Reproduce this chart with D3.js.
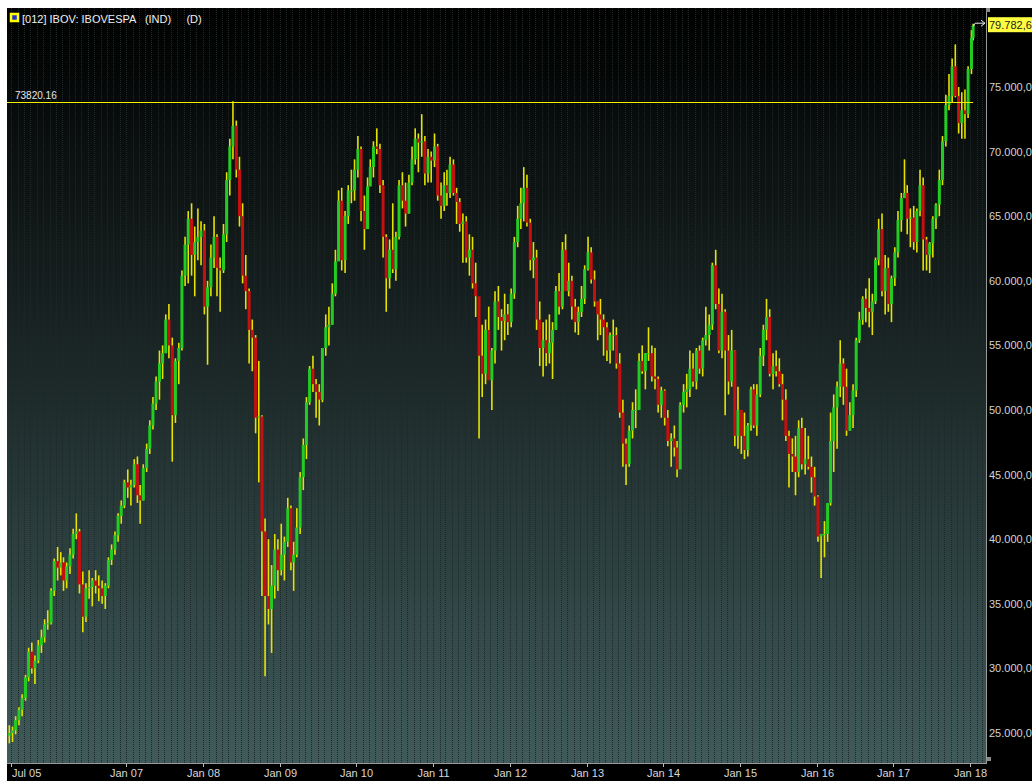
<!DOCTYPE html>
<html><head><meta charset="utf-8">
<script src="https://cdn.jsdelivr.net/npm/d3@7"></script>
<style>
body{margin:0;background:#000;overflow:hidden}
svg{display:block}
text{font-family:"Liberation Sans",Arial,sans-serif}
</style>
</head><body>
<svg id="c" width="1032" height="781"></svg>
<script>
// ---- DATA (half-month bars, values in thousands of points) ----
const firstOpen = 24.8;
const highs = [
/*2005*/ 25.6,25.5,26.3,27.0,28.0,29.5,31.6,32.0,31.0,32.2,33.0,33.8,34.5,
/*2006*/ 36.2,38.5,39.4,39.0,38.6,38.2,39.3,40.8,42.0,40.8,37.5,36.6,37.6,37.0,37.6,37.2,36.8,36.6,38.6,39.6,40.6,42.0,43.0,44.6,
/*2007*/ 45.4,44.6,46.2,46.4,44.2,45.8,47.4,49.2,51.0,52.6,54.6,55.0,57.4,58.2,55.6,54.0,55.2,60.8,63.4,65.4,66.0,64.2,65.6,64.6,
/*2008*/ 64.4,60.0,62.8,65.0,63.6,61.8,64.4,68.4,71.0,73.9,72.4,69.6,66.0,62.0,59.4,57.0,55.8,53.8,49.6,41.6,40.0,38.0,40.4,40.0,
/*2009*/ 41.2,40.2,43.2,42.6,39.8,42.4,45.2,47.8,51.0,53.4,54.2,52.4,52.0,54.8,57.4,58.0,59.8,62.4,67.0,67.2,65.4,67.4,68.6,69.4,
/*2010*/ 71.2,70.4,66.6,68.0,69.4,70.8,71.8,70.6,67.8,63.6,63.2,66.0,63.8,67.8,68.4,67.6,68.2,70.4,71.8,71.4,72.9,71.2,70.2,70.0,
/*2011*/ 71.4,70.6,67.6,68.4,68.6,69.6,69.4,67.2,66.4,65.2,65.0,63.6,63.4,61.4,58.4,56.6,57.0,58.0,54.8,59.2,59.6,57.8,59.0,58.2,
/*2012*/ 59.4,63.4,65.8,67.2,68.8,68.2,64.8,63.0,62.4,58.4,56.8,57.0,57.4,56.8,59.6,60.6,63.0,63.6,61.4,60.4,58.6,58.0,59.6,61.2,
/*2013*/ 63.4,62.6,60.8,58.4,58.6,57.4,56.8,56.0,57.0,56.4,54.4,50.8,47.8,48.8,50.6,51.6,54.4,55.0,54.4,56.4,55.0,54.8,52.6,51.8,
/*2014*/ 51.6,50.0,48.2,48.8,47.6,50.6,52.0,52.8,54.6,54.4,54.8,55.0,55.6,58.0,57.4,61.4,62.4,59.4,59.0,57.8,55.8,56.2,54.6,51.8,
/*2015*/ 50.0,49.8,49.0,51.8,52.0,52.0,54.8,56.6,58.6,57.8,54.4,54.6,54.0,52.8,51.6,48.4,47.8,48.0,49.2,49.4,48.6,48.0,46.4,45.6,
/*2016*/ 43.4,40.4,41.4,42.6,49.8,51.2,52.2,55.4,54.0,53.2,50.6,52.0,55.6,57.6,58.8,59.4,60.2,59.0,61.8,64.8,65.2,62.0,61.8,60.4,
/*2017*/ 62.6,65.4,66.8,69.4,67.4,65.6,65.8,65.6,68.6,68.0,63.4,63.0,65.0,66.0,68.6,71.2,74.4,76.0,77.2,78.3,75.0,74.6,74.8,76.6,
/*2018*/ 79.4,79.9];
const lows = [
/*2005*/ 24.2,24.3,24.9,25.6,26.3,27.5,29.0,29.6,28.8,30.4,31.2,32.0,33.0,
/*2006*/ 33.4,35.6,36.8,37.2,36.0,36.2,37.3,38.5,40.0,35.8,32.8,33.6,35.4,34.8,35.8,35.2,35.0,34.6,36.2,38.0,38.8,39.8,41.2,42.4,
/*2007*/ 43.2,42.6,44.0,42.8,41.2,43.0,45.2,46.6,48.5,50.0,50.8,52.4,54.4,54.0,46.0,49.0,52.0,54.6,59.6,59.8,60.4,58.8,61.6,61.2,
/*2008*/ 57.4,53.5,58.8,61.0,58.8,57.6,60.6,63.0,66.6,69.4,68.0,64.2,59.8,57.8,53.6,53.0,48.2,44.4,35.6,29.4,33.4,31.2,35.4,36.0,
/*2009*/ 37.2,36.8,39.4,37.6,36.0,38.6,40.4,43.8,46.2,50.4,51.4,49.4,48.8,50.6,54.2,55.0,56.6,58.8,61.6,60.8,60.6,64.4,66.0,66.2,
/*2010*/ 68.0,64.6,62.4,64.4,67.4,68.0,69.8,66.8,61.8,57.6,59.4,60.6,60.0,63.2,65.6,64.2,65.2,67.4,69.0,68.4,69.6,67.4,67.6,67.6,
/*2011*/ 68.8,66.2,64.8,65.4,65.8,66.4,66.6,64.4,63.8,61.4,61.4,60.4,59.4,57.2,47.8,51.0,52.0,52.4,50.0,53.6,56.2,54.6,55.4,55.8,
/*2012*/ 56.4,58.6,62.6,64.0,64.6,64.2,60.8,60.2,56.2,53.4,52.6,53.4,53.6,52.4,56.2,57.4,57.8,59.8,58.8,57.0,56.0,55.8,57.2,58.2,
/*2013*/ 60.8,59.8,58.0,55.4,55.8,54.2,53.8,53.6,54.6,53.2,49.4,45.6,44.2,45.6,47.8,48.6,50.0,52.8,51.6,53.8,52.2,51.6,49.8,49.4,
/*2014*/ 48.8,47.2,45.6,46.4,44.8,45.6,49.8,50.2,51.0,51.8,51.6,52.8,52.6,55.0,54.6,56.2,57.8,54.4,54.0,49.6,51.2,51.8,47.2,47.0,
/*2015*/ 46.6,46.2,46.4,48.4,48.6,48.0,51.0,53.4,55.4,52.6,51.6,52.6,51.8,49.2,47.6,44.0,45.2,43.4,44.8,45.4,45.0,45.4,43.6,42.6,
/*2016*/ 39.8,37.0,38.6,39.8,42.6,45.2,47.0,51.0,50.4,48.0,48.4,48.6,51.0,55.2,56.6,56.8,56.4,55.8,58.2,61.2,58.8,57.4,57.6,56.8,
/*2017*/ 59.6,61.8,63.8,66.4,63.6,62.6,62.4,62.2,65.0,60.8,60.8,60.6,61.8,64.0,65.0,67.4,70.4,73.2,73.8,74.2,71.4,71.0,71.0,72.6,
/*2018*/ 76.0,78.6];
const closes = [
/*2005*/ 25.0,25.2,26.0,26.8,27.7,29.3,31.3,30.0,30.6,31.8,32.4,33.4,33.5,
/*2006*/ 36.0,38.3,37.8,38.2,36.8,37.9,38.8,40.4,40.6,36.5,34.0,36.2,36.3,36.8,36.4,36.2,35.6,36.4,38.4,39.2,40.3,41.8,42.6,44.4,
/*2007*/ 44.0,44.2,45.8,43.4,43.0,45.5,47.0,48.8,50.5,52.2,53.6,54.4,57.0,55.0,49.6,53.8,54.8,60.4,62.8,64.8,62.0,63.0,63.4,63.9,
/*2008*/ 58.0,59.5,61.8,63.4,61.0,60.8,63.6,67.8,70.4,72.0,68.6,65.0,60.4,59.2,56.2,55.6,49.4,49.5,40.6,35.6,34.6,36.4,39.2,37.6,
/*2009*/ 38.8,39.8,42.4,38.2,38.8,40.9,44.8,47.3,50.6,53.2,52.0,51.4,50.8,54.8,56.4,56.6,59.0,61.5,66.2,61.6,65.0,67.0,67.0,68.6,
/*2010*/ 70.2,65.4,64.0,67.3,68.8,70.4,70.2,67.4,63.4,60.2,62.4,60.9,63.4,67.4,66.2,65.2,67.6,69.4,71.0,70.7,70.8,68.3,69.6,69.3,
/*2011*/ 70.4,66.6,65.8,67.4,66.8,69.0,66.8,66.1,64.4,64.6,61.8,62.4,59.8,58.8,54.2,52.8,56.2,52.3,54.6,58.4,57.2,56.9,57.4,56.8,
/*2012*/ 59.0,63.0,64.8,66.0,67.2,64.5,61.6,61.8,57.0,54.8,55.4,54.4,55.2,56.2,59.2,58.0,62.4,59.2,60.0,58.0,56.8,57.6,58.6,60.9,
/*2013*/ 62.2,60.1,58.4,57.4,57.0,56.4,54.6,55.8,55.8,53.6,49.8,47.4,45.8,48.4,50.0,50.0,53.8,53.0,54.4,54.4,52.6,52.4,50.4,51.5,
/*2014*/ 49.4,47.6,47.8,47.1,45.4,50.4,51.4,51.6,53.2,52.2,54.6,53.2,55.4,55.8,56.6,61.2,58.2,54.6,57.6,54.6,52.2,54.6,48.0,50.0,
/*2015*/ 48.0,46.9,48.8,51.6,48.8,51.2,54.2,56.2,57.2,52.8,53.4,53.0,52.0,50.8,48.0,46.6,46.4,45.2,48.6,45.8,46.2,45.6,44.8,43.3,
/*2016*/ 40.2,40.4,40.4,42.8,47.6,50.2,51.8,53.6,51.8,48.4,49.6,51.5,55.4,57.0,58.6,57.9,57.6,58.4,61.6,64.0,59.2,61.0,58.2,60.2,
/*2017*/ 62.2,64.7,66.4,66.8,64.8,64.9,63.0,65.4,67.4,63.2,62.0,62.9,64.8,65.9,67.8,70.8,73.6,74.3,76.6,74.3,72.2,73.2,72.9,76.4,
/*2018*/ 78.8,79.78];
const yTicks = [25000,30000,35000,40000,45000,50000,55000,60000,65000,70000,75000];
const xTickDates = ["2005-07-01","2007-01-01","2008-01-01","2009-01-01","2010-01-01","2011-01-01","2012-01-01","2013-01-01","2014-01-01","2015-01-01","2016-01-01","2017-01-01","2018-01-01"];
const xTickLabels = ["Jul 05","Jan 07","Jan 08","Jan 09","Jan 10","Jan 11","Jan 12","Jan 13","Jan 14","Jan 15","Jan 16","Jan 17","Jan 18"];
const refLevel = 73820.16;
const lastPrice = 79782.6;
const title = "[012] IBOV: IBOVESPA   (IND)     (D)";

// ---- LAYOUT ----
const W = 1032, H = 781;
const L = 7, R = 986, T = 8, B = 763;
const svg = d3.select("#c");
const parse = d3.utcParse("%Y-%m-%d");
const x = d3.scaleUtc().domain([parse("2005-07-01"), parse("2018-01-01")]).range([11, 970]);
const y = d3.scaleLinear().domain([25000, 75000]).range([733, 87]);
const br = d3.formatLocale({decimal: ",", thousands: ".", grouping: [3], currency: ["R$", ""]});
const fmt = br.format(",.1f");

// bars
const bars = closes.map((c, i) => {
  const k = i + 1;
  const d = new Date(Date.UTC(2005, 5 + Math.floor(k / 2), (k % 2) ? 23 : 8));
  return {date: d, o: (i ? closes[i - 1] : firstOpen) * 1000, h: highs[i] * 1000, l: lows[i] * 1000, c: c * 1000};
});
bars[bars.length - 1].date = new Date(Date.UTC(2018, 0, 16));

// backgrounds
svg.append("rect").attr("width", W).attr("height", H).attr("fill", "#ffffff");
svg.append("rect").attr("x", L).attr("y", T).attr("width", W - L).attr("height", H - T).attr("fill", "#000");
const defs = svg.append("defs");
const g = defs.append("linearGradient").attr("id", "bg").attr("x1", 0).attr("y1", 0).attr("x2", 0).attr("y2", 1);
g.append("stop").attr("offset", "0%").attr("stop-color", "#000000");
g.append("stop").attr("offset", "45%").attr("stop-color", "#1a2525");
g.append("stop").attr("offset", "100%").attr("stop-color", "#405a5a");
svg.append("rect").attr("x", L).attr("y", T).attr("width", R - L).attr("height", B - T).attr("fill", "url(#bg)");

// monthly dotted grid
const months = d3.utcMonth.range(x.invert(L), x.invert(R));
svg.append("g").selectAll("line").data(months).join("line")
  .attr("x1", d => Math.round(x(d)) + 0.5).attr("x2", d => Math.round(x(d)) + 0.5)
  .attr("y1", T).attr("y2", B)
  .attr("stroke", "#1f2828").attr("stroke-dasharray", "1,1");

// candles
const bw = 3;
const cg = svg.append("g");
cg.selectAll("line").data(bars).join("line")
  .attr("x1", d => x(d.date)).attr("x2", d => x(d.date))
  .attr("y1", d => y(d.h)).attr("y2", d => y(d.l))
  .attr("stroke", "#e4e400").attr("stroke-width", 1.6);
cg.selectAll("rect").data(bars).join("rect")
  .attr("x", d => x(d.date) - bw / 2)
  .attr("y", d => y(Math.max(d.o, d.c)))
  .attr("width", bw)
  .attr("height", d => Math.max(1, Math.abs(y(d.o) - y(d.c))))
  .attr("fill", d => d.c >= d.o ? "#22cc22" : "#c41010");

// reference line
const last = bars[bars.length - 1];
const lx = x(last.date);
svg.append("line").attr("x1", L).attr("x2", lx).attr("y1", Math.round(y(refLevel)) + 0.5).attr("y2", Math.round(y(refLevel)) + 0.5)
  .attr("stroke", "#f0f000").attr("stroke-width", 1);
svg.append("text").attr("x", 15).attr("y", y(refLevel) - 3).attr("fill", "#e6e6e6").attr("font-size", 10).text(d3.format(".2f")(refLevel));

// axes lines
svg.append("line").attr("x1", R + 0.5).attr("x2", R + 0.5).attr("y1", T).attr("y2", B + 1).attr("stroke", "#9a9a9a");
svg.append("line").attr("x1", L).attr("x2", R + 1).attr("y1", B + 0.5).attr("y2", B + 0.5).attr("stroke", "#9a9a9a");
svg.append("rect").attr("x", R).attr("y", T).attr("width", 4).attr("height", 4).attr("fill", "#8a8a8a");
svg.append("rect").attr("x", R + 1).attr("y", B - 6).attr("width", 4).attr("height", 4).attr("fill", "#8a8a8a");

// y labels
svg.append("g").selectAll("text").data(yTicks).join("text")
  .attr("x", 989).attr("y", d => y(d) + 4)
  .attr("fill", "#d4d4d4").attr("font-size", 11).text(d => fmt(d));

// x ticks + labels
const xt = svg.append("g");
xTickDates.forEach((s, i) => {
  const px = Math.round(x(parse(s))) + 0.5;
  xt.append("line").attr("x1", px).attr("x2", px).attr("y1", B).attr("y2", B + 4).attr("stroke", "#bbbbbb");
  xt.append("text").attr("x", i === 0 ? 12 : px).attr("y", 777)
    .attr("text-anchor", i === 0 ? "start" : "middle")
    .attr("fill", "#d8d8d8").attr("font-size", 11).text(xTickLabels[i]);
});

// last price tag + arrow
const yp = y(lastPrice);
svg.append("rect").attr("x", 988).attr("y", yp - 8).attr("width", 50).attr("height", 15).attr("fill", "#ffff40");
svg.append("text").attr("x", 989).attr("y", yp + 4).attr("fill", "#1a1a1a").attr("font-size", 11).text(fmt(lastPrice));
svg.append("path").attr("d", `M${lx},${y(last.h) + 3}L${lx + 2},${yp - 2}L${R - 1},${yp - 2}M${R - 5},${yp - 5}L${R - 1},${yp - 2}L${R - 5},${yp + 1}`)
  .attr("fill", "none").attr("stroke", "#e8e8e8").attr("stroke-width", 1);

// legend
svg.append("rect").attr("x", 11).attr("y", 14).attr("width", 7).attr("height", 7).attr("fill", "#2030d0").attr("stroke", "#ffff00").attr("stroke-width", 2.5);
svg.append("text").attr("x", 22).attr("y", 23).attr("fill", "#f0f0f0").attr("font-size", 11)
  .style("white-space", "pre").text(title);
</script>
</body></html>
